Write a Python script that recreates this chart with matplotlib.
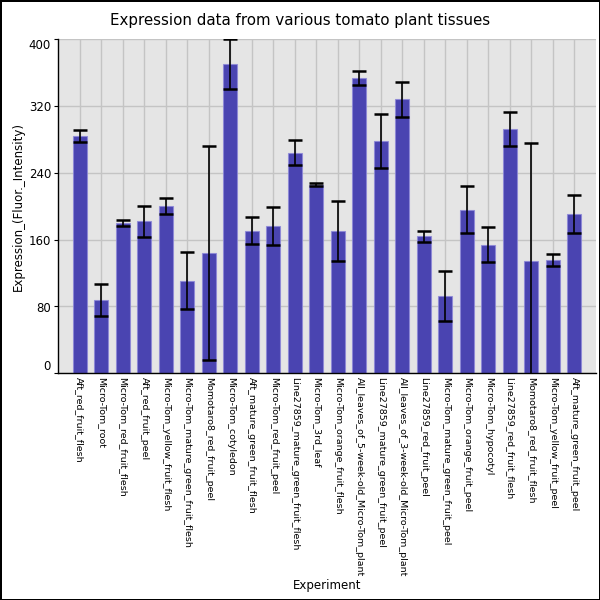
import matplotlib
matplotlib.use("Agg")
import matplotlib.pyplot as plt
import numpy as np

categories = [
    "Aft_red_fruit_flesh",
    "Micro-Tom_root",
    "Micro-Tom_red_fruit_flesh",
    "Aft_red_fruit_peel",
    "Micro-Tom_yellow_fruit_flesh",
    "Micro-Tom_mature_green_fruit_flesh",
    "Momotaro8_red_fruit_peel",
    "Micro-Tom_cotyledon",
    "Aft_mature_green_fruit_flesh",
    "Micro-Tom_red_fruit_peel",
    "Line27859_mature_green_fruit_flesh",
    "Micro-Tom_3rd_leaf",
    "Micro-Tom_orange_fruit_flesh",
    "All_leaves_of_5-week-old_Micro-Tom_plant",
    "Line27859_mature_green_fruit_peel",
    "All_leaves_of_3-week-old_Micro-Tom_plant",
    "Line27859_red_fruit_peel",
    "Micro-Tom_mature_green_fruit_peel",
    "Micro-Tom_orange_fruit_peel",
    "Micro-Tom_hypocotyl",
    "Line27859_red_fruit_flesh",
    "Momotaro8_red_fruit_flesh",
    "Micro-Tom_yellow_fruit_peel",
    "Aft_mature_green_fruit_peel",
]
values = [284, 88, 180, 182, 200, 111, 144, 370, 171, 176, 264, 226, 170,
          354, 278, 328, 164, 93, 196, 154, 293, 134, 136, 191]
errors = [7, 19, 3, 18.5, 9.5, 34, 128.5, 30, 16.5, 22.8, 15, 2, 36,
          8.5, 32, 21, 7, 30, 28, 20.8, 20.4, 141.6, 7.2, 23]
yticks = [0, 80, 160, 240, 320, 400]

fig = plt.figure(figsize=(6, 6), dpi=100)
fig.patch.set_edgecolor("black")
fig.patch.set_linewidth(2)
ax = fig.add_axes([58/600, 1 - 373.3/600, 538/600, (373.3 - 39.3)/600])
ax.set_facecolor("#e5e5e5")
x = np.arange(len(categories))
ax.bar(x, values, width=0.65, color="#4a44b1", edgecolor=(0.55, 0.53, 0.85, 0.8),
       linewidth=0.8, zorder=2)
ax.errorbar(x, values, yerr=errors, fmt="none", ecolor="black", elinewidth=1.2,
            capsize=5, capthick=1.8, zorder=3)
ax.set_xlim(-1, len(categories))
ax.set_ylim(0, 400)
ax.set_yticks(yticks)
ax.set_yticklabels([str(t) for t in yticks], fontsize=8.5)
tl = ax.get_yticklabels()
tl[0].set_va("bottom")
tl[-1].set_va("top")
ax.set_xticks(x)
ax.set_xticklabels(categories, rotation=-90, fontsize=6.8, va="top", ha="center")
ax.tick_params(axis="x", length=0, pad=3)
ax.tick_params(axis="y", length=3, width=0.8, pad=2)
ax.grid(True, color="#c4c4c4", linewidth=1, zorder=0)
ax.set_axisbelow(True)
for s in ["top", "right"]:
    ax.spines[s].set_visible(False)
for s in ["left", "bottom"]:
    ax.spines[s].set_color("black")
    ax.spines[s].set_linewidth(1)
ax.set_ylabel("Expression_(Fluor._Intensity)", fontsize=8.5, labelpad=2.5)
fig.text(327/600, 1 - 585/600, "Experiment", fontsize=8.5, ha="center", va="center")
fig.text(300/600, 1 - 20/600, "Expression data from various tomato plant tissues",
         fontsize=10.8, ha="center", va="center")
fig.savefig("out.png", dpi=100)
